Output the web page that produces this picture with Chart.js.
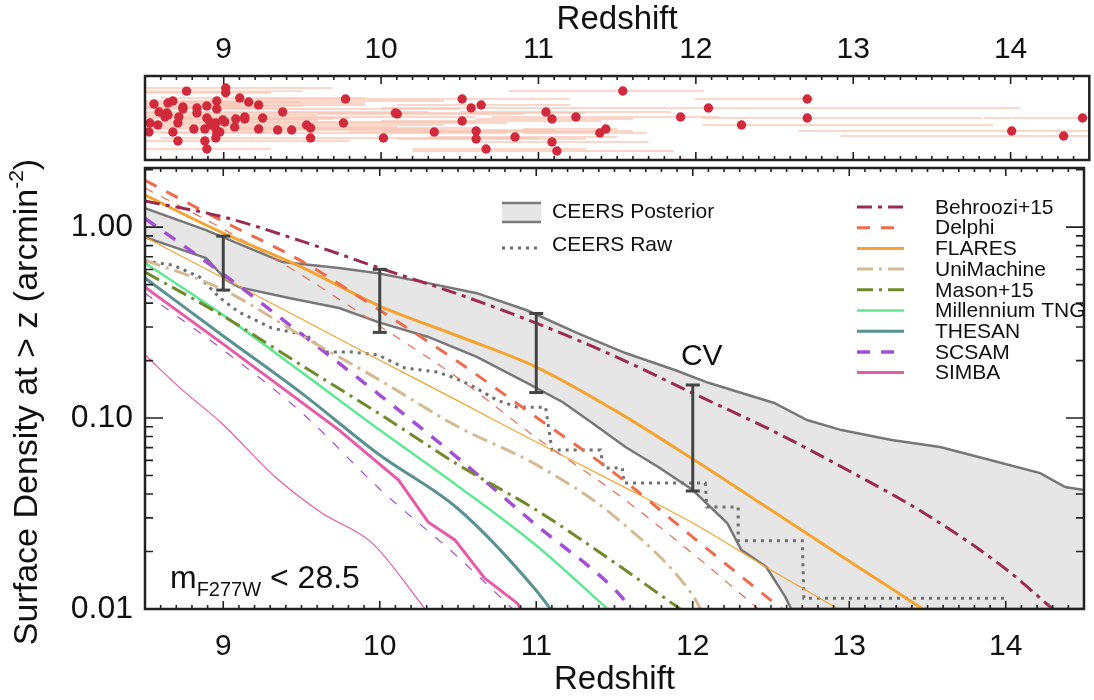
<!DOCTYPE html>
<html>
<head>
<meta charset="utf-8">
<script src="https://cdn.jsdelivr.net/npm/chart.js@4.4.0/dist/chart.umd.min.js"></script>
<style>
  body { margin: 0; background: #fff; }
  #wrap { position: relative; width: 1094px; height: 700px; }
  canvas { position: absolute; left: 0; top: 0; }
</style>
</head>
<body>
<div id="wrap">
  <canvas id="main" width="1094" height="700"></canvas>
  <canvas id="top" width="1094" height="165"></canvas>
</div>
<script>
// ---- top panel: photometric redshifts with their ranges ----
const topZ   = [8.764,9.013,9.013,8.557,8.646,8.677,8.589,8.639,8.627,8.646,8.741,8.741,8.715,8.83,8.83,8.893,8.956,8.956,9.102,9.159,9.222,9.375,8.532,8.582,8.525,8.709,8.677,8.811,8.88,8.893,8.912,8.925,8.944,8.95,8.956,8.975,8.95,8.994,9.007,9.077,9.07,9.134,9.134,9.248,9.222,9.343,9.432,9.527,9.552,9.552,8.709,8.88,8.893,9.774,9.761,10.015,10.091,10.103,10.338,10.515,10.572,10.636,10.515,10.604,10.604,10.667,10.851,11.048,11.086,11.238,11.086,11.117,11.39,11.428,11.536,11.903,12.08,12.29,12.708,12.708,14.007,14.337,14.457];
const topRow = [0.82,0.857,0.80,0.667,0.679,0.702,0.571,0.56,0.512,0.536,0.631,0.607,0.512,0.619,0.56,0.643,0.702,0.607,0.738,0.69,0.655,0.571,0.44,0.417,0.333,0.44,0.333,0.369,0.369,0.5,0.452,0.417,0.393,0.44,0.321,0.333,0.262,0.476,0.452,0.488,0.393,0.512,0.488,0.5,0.369,0.357,0.357,0.417,0.381,0.262,0.226,0.226,0.131,0.726,0.44,0.262,0.56,0.548,0.333,0.726,0.619,0.655,0.464,0.345,0.25,0.131,0.274,0.571,0.488,0.512,0.214,0.107,0.321,0.369,0.821,0.512,0.619,0.417,0.726,0.5,0.345,0.286,0.5];
const topLo  = [8.3,8.3,8.4,8.2,8.3,8.3,8.2,8.2,8.2,8.2,8.3,8.3,8.3,8.4,8.4,8.5,8.5,8.5,8.6,8.7,8.8,8.9,8.2,8.2,8.2,8.3,8.3,8.4,8.5,8.5,8.5,8.5,8.5,8.6,8.6,8.6,8.6,8.6,8.6,8.7,8.7,8.7,8.7,8.8,8.8,8.9,9.0,9.1,9.1,9.1,8.3,8.4,8.5,9.2,9.2,9.5,9.5,9.6,9.8,9.9,10.0,10.1,10.0,10.0,10.1,10.2,10.3,10.5,10.6,10.7,10.6,10.2,10.9,10.9,10.81,11.2,11.3,12.04,11.99,12.04,12.65,12.92,13.83];
const topHi  = [9.5,9.69,9.3,9.1,9.9,9.3,9.4,10.0,9.0,9.6,9.2,10.5,9.8,9.4,10.2,9.5,10.4,9.6,9.9,9.5,9.9,10.3,9.7,9.2,9.4,10.0,9.2,10.3,9.5,9.8,10.6,9.5,10.1,9.6,10.8,9.4,9.9,9.6,10.1,9.7,9.9,10.6,9.5,9.8,10.1,10.8,11.1,10.4,10.6,10.9,9.8,9.3,9.3,11.2,10.8,11.0,11.3,10.9,11.4,11.2,11.5,11.2,11.4,11.6,11.3,11.3,11.5,11.84,11.6,11.8,11.7,11.86,11.69,11.5,12.05,12.15,14.06,13.89,12.75,13.82,14.6,14.6,14.6];

// ---- bottom panel: cumulative surface densities (arcmin^-2) ----
const upperZ = [8.5,8.89,9.38,9.74,9.99,10.31,10.62,10.94,11.26,11.57,11.89,12.1,12.52,12.73,12.95,13.27,13.58,13.9,14.22,14.38,14.5];
const upperN = [1.257,0.964,0.656,0.61,0.574,0.509,0.451,0.367,0.279,0.219,0.178,0.153,0.12,0.0977,0.0865,0.0767,0.0705,0.0603,0.0515,0.0435,0.042];
const lowerZ = [8.5,8.89,9.02,9.1,9.42,9.74,9.99,10.31,10.62,10.94,11.17,11.36,11.57,11.78,12.0,12.08,12.22,12.31,12.47,12.59,12.63,14.5];
const lowerN = [0.887,0.688,0.528,0.485,0.425,0.377,0.318,0.266,0.209,0.153,0.121,0.094,0.0705,0.0554,0.042,0.0363,0.0282,0.0204,0.0166,0.0116,0.01,0.01];
const rawZ = [8.5,8.68,8.85,8.98,9.1,9.31,9.53,9.65,9.82,9.99,10.16,10.37,10.48,10.58,10.75,10.88,11.06,11.1,11.41,11.43,11.55,11.56,12.08,12.09,12.29,12.29,12.7,12.71,14.0];
const rawN = [0.664,0.632,0.547,0.425,0.359,0.296,0.272,0.222,0.222,0.214,0.183,0.174,0.162,0.149,0.124,0.114,0.114,0.068,0.068,0.0548,0.0548,0.0457,0.0457,0.0342,0.0342,0.0228,0.0228,0.0114,0.0114];

const behrooziZ = [8.5,9,9.5,10,10.5,11,11.5,12,12.5,13,13.5,14,14.3];
const behrooziN = [1.37,1.13,0.845,0.61,0.446,0.314,0.211,0.135,0.0865,0.0528,0.031,0.0162,0.01];
const delphiZ = [8.5,9,9.5,10,10.5,11,11.5,12,12.5,12.57];
const delphiN = [1.76,1.07,0.664,0.367,0.197,0.101,0.0515,0.0238,0.0111,0.01];
const delphiThinZ = [8.5,9,9.5,10,10.5,11,11.5,12,12.42];
const delphiThinN = [1.6,0.977,0.561,0.303,0.162,0.079,0.041,0.0195,0.01];
const flaresZ = [8.5,9,9.5,10,10.5,11,11.5,12,12.5,13,13.47];
const flaresN = [1.47,0.93,0.618,0.386,0.269,0.185,0.110,0.061,0.033,0.0178,0.01];
const flaresThinZ = [8.5,9,9.5,10,10.5,11,11.5,12,12.5,12.93];
const flaresThinN = [0.887,0.541,0.33,0.201,0.123,0.0749,0.0462,0.0282,0.016,0.01];
const uniZ = [8.5,9,9.5,10,10.5,11,11.5,12,12.05];
const uniN = [0.672,0.47,0.27,0.158,0.09,0.057,0.0305,0.0118,0.01];
const masonZ = [8.5,9,9.5,10,10.5,11,11.5,11.92];
const masonN = [0.581,0.342,0.189,0.105,0.057,0.033,0.0175,0.01];
const tngZ = [8.5,9,9.5,10,10.5,11,11.45];
const tngN = [0.648,0.346,0.174,0.0865,0.044,0.0215,0.0101];
const thesanZ = [8.5,9,9.5,10,10.5,11,11.09];
const thesanN = [0.541,0.269,0.135,0.064,0.0335,0.0125,0.01];
const scsamZ = [8.5,9,9.5,10,10.5,11,11.5,11.61];
const scsamN = [1.11,0.567,0.275,0.132,0.0617,0.0275,0.0127,0.01];
const scsamThinZ = [8.5,9,9.5,10,10.5,10.85];
const scsamThinN = [0.451,0.227,0.107,0.0425,0.0187,0.01];
const simbaZ = [8.5,9,9.31,9.74,10.12,10.31,10.48,10.67,10.88,10.9];
const simbaN = [0.485,0.244,0.158,0.0865,0.0473,0.0285,0.023,0.0145,0.0107,0.01];
const simbaThinZ = [8.5,8.74,8.99,9.34,9.63,9.95,10.29];
const simbaThinN = [0.214,0.140,0.094,0.0485,0.0318,0.0222,0.01];

// cosmic variance bars
const cvZ  = [9, 10, 11, 12];
const cvHi = [0.897, 0.601, 0.353, 0.149];
const cvLo = [0.468, 0.281, 0.136, 0.0415];

const zTickVals = [9, 10, 11, 12, 13, 14];
const yTickVals = [0.01, 0.1, 1];

const FONT = "'Liberation Sans', Arial, Helvetica, sans-serif";
Chart.defaults.font.family = FONT;
Chart.defaults.color = '#111';

function pts(zs, ns){ return zs.map((z,i)=>({x:z, y:ns[i]})); }

function zTicks(s){ s.ticks = zTickVals.map(v=>({value:v})); }
function yTicks(s){ s.ticks = yTickVals.map(v=>({value:v})); }

// box + inward ticks on all sides, IDL style
const frame = {
  id: 'frame',
  afterDatasetsDraw(chart){
    const {ctx, chartArea:a} = chart;
    const xs = chart.scales.x, ys = chart.scales.y;
    ctx.save();
    ctx.strokeStyle = '#222';
    ctx.lineWidth = 1.6;
    ctx.beginPath();
    for (let i = 85; i <= 145; i++){
      const px = xs.getPixelForValue(i/10);
      const len = i % 10 === 0 ? 8 : 4;
      ctx.moveTo(px, a.top); ctx.lineTo(px, a.top + len);
      ctx.moveTo(px, a.bottom); ctx.lineTo(px, a.bottom - len);
    }
    if (ys.type === 'logarithmic'){
      for (let d = -2; d <= 0; d++) for (let m = 1; m <= 9; m++){
        const v = m * Math.pow(10, d);
        if (v < ys.min || v > ys.max) continue;
        const py = ys.getPixelForValue(v);
        const len = m === 1 ? 18 : 8;
        ctx.moveTo(a.left, py); ctx.lineTo(a.left + len, py);
        ctx.moveTo(a.right, py); ctx.lineTo(a.right - len, py);
      }
    }
    ctx.stroke();
    ctx.lineWidth = 2.5;
    ctx.strokeRect(a.left, a.top, a.right - a.left, a.bottom - a.top);
    ctx.restore();
  }
};

// ---------- top chart ----------
const errPts = [];
topZ.forEach((z,i)=>{
  errPts.push({x:topLo[i], y:topRow[i]}, {x:topHi[i], y:topRow[i]}, {x:topHi[i], y:null});
});

new Chart(document.getElementById('top'), {
  data: {
    datasets: [
      { type:'scatter', data: topZ.map((z,i)=>({x:z, y:topRow[i]})), pointRadius:4.7,
        backgroundColor:'#d12a3c', borderWidth:0, order:0 },
      { type:'line', data: errPts, borderColor:'rgba(241,150,115,0.5)', borderWidth:1.4,
        pointRadius:0, spanGaps:false, order:1 }
    ]
  },
  options: {
    responsive:false, animation:false, devicePixelRatio:1,
    layout:{ padding:{left:145, right:2, top:0, bottom:5} },
    plugins:{ legend:{display:false}, tooltip:{enabled:false} },
    scales:{
      x:{ type:'linear', position:'top', min:8.5, max:14.5, afterBuildTicks:zTicks,
          afterFit:s=>{ s.height = 76; },
          grid:{display:false, drawTicks:false}, border:{display:false},
          ticks:{font:{size:30}, padding:8, color:'#111'},
          title:{display:true, text:'Redshift', font:{size:33}, padding:0, color:'#111'} },
      y:{ display:false, min:0, max:1 }
    }
  },
  plugins:[frame]
});

// ---------- main chart ----------
const annot = {
  id: 'annot',
  afterDraw(chart){
    const {ctx} = chart;
    const xs = chart.scales.x, ys = chart.scales.y;
    ctx.save();
    ctx.fillStyle = '#111';
    // y axis title with superscript
    ctx.translate(28, 402);
    ctx.rotate(-Math.PI/2);
    ctx.textBaseline = 'middle';
    ctx.font = '34px ' + FONT;
    const t1 = 'Surface Density at > z (arcmin', t3 = ')';
    const w1 = ctx.measureText(t1).width, w3 = ctx.measureText(t3).width;
    ctx.font = '21px ' + FONT;
    const w2 = ctx.measureText('-2').width;
    let x0 = -(w1 + w2 + w3)/2;
    ctx.font = '34px ' + FONT; ctx.fillText(t1, x0, 0);
    ctx.font = '21px ' + FONT; ctx.fillText('-2', x0 + w1, -11);
    ctx.font = '34px ' + FONT; ctx.fillText(t3, x0 + w1 + w2, 0);
    ctx.restore();

    ctx.save();
    ctx.fillStyle = '#111';
    // CV label above the last bar
    ctx.font = '30px ' + FONT;
    ctx.textAlign = 'center'; ctx.textBaseline = 'middle';
    ctx.fillText('CV', xs.getPixelForValue(cvZ[3]) + 9, ys.getPixelForValue(cvHi[3]) - 28);

    // magnitude limit label
    const a = chart.chartArea;
    ctx.textAlign = 'left'; ctx.textBaseline = 'alphabetic';
    let lx = a.left + 25, ly = a.bottom - 21;
    ctx.font = '32px ' + FONT; ctx.fillText('m', lx, ly); lx += ctx.measureText('m').width;
    ctx.font = '20px ' + FONT; ctx.fillText('F277W', lx, ly + 8); lx += ctx.measureText('F277W').width;
    ctx.font = '32px ' + FONT; ctx.fillText(' < 28.5', lx, ly);

    // left legend (CEERS)
    ctx.font = '21px ' + FONT; ctx.textBaseline = 'middle';
    ctx.fillStyle = '#e6e6e6'; ctx.fillRect(502, 203, 39, 19);
    ctx.strokeStyle = '#7a7a7a'; ctx.lineWidth = 2.5;
    ctx.beginPath(); ctx.moveTo(502, 203); ctx.lineTo(541, 203); ctx.moveTo(502, 222); ctx.lineTo(541, 222); ctx.stroke();
    ctx.fillStyle = '#111'; ctx.fillText('CEERS Posterior', 552, 212);
    const raw = chart.data.datasets[2];
    ctx.strokeStyle = raw.borderColor; ctx.lineWidth = raw.borderWidth; ctx.setLineDash(raw.borderDash);
    ctx.beginPath(); ctx.moveTo(502, 248); ctx.lineTo(542, 248); ctx.stroke();
    ctx.setLineDash([]);
    ctx.fillText('CEERS Raw', 552, 245);

    // right legend (models)
    const entries = chart.data.datasets.filter(d => d.legend);
    entries.forEach((d, i) => {
      const y = 208 + i*20.7;
      ctx.strokeStyle = d.borderColor; ctx.lineWidth = d.borderWidth;
      ctx.setLineDash(d.borderDash || []);
      ctx.beginPath(); ctx.moveTo(857, y - 1); ctx.lineTo(904, y - 1); ctx.stroke();
      ctx.setLineDash([]);
      ctx.fillStyle = '#111';
      ctx.fillText(d.label, 935, y);
    });
    ctx.restore();
  }
};

const cvPts = [];
cvZ.forEach((z,i)=>{ cvPts.push({x:z, y:cvHi[i]}, {x:z, y:cvLo[i]}, {x:z, y:null}); });

function model(label, zs, ns, color, width, dash, order, legend, smooth = true){
  return { type:'line', label, data: pts(zs, ns), borderColor:color, borderWidth:width,
           borderDash:dash, pointRadius:0, fill:false, order, legend,
           cubicInterpolationMode: smooth ? 'monotone' : 'default', tension:0 };
}

new Chart(document.getElementById('main'), {
  data: {
    datasets: [
      { type:'line', label:'CEERS Posterior', data: pts(upperZ, upperN), borderColor:'#777', borderWidth:2.5,
        backgroundColor:'#e6e6e6', fill:{target:1}, pointRadius:0, tension:0, order:30 },
      { type:'line', label:'lower', data: pts(lowerZ, lowerN), borderColor:'#777', borderWidth:2.5,
        pointRadius:0, fill:false, tension:0, order:31 },
      { type:'line', label:'CEERS Raw', data: pts(rawZ, rawN), borderColor:'#6f6f6f', borderWidth:3,
        borderDash:[3,5], pointRadius:0, fill:false, tension:0, order:20 },
      model('Behroozi+15', behrooziZ, behrooziN, '#9c2b52', 3, [15,6,4,6], 2, true),
      model('Delphi', delphiZ, delphiN, '#ee6b4e', 3, [13,11], 3, true),
      model('FLARES', flaresZ, flaresN, '#f5a431', 3, [], 4, true),
      model('UniMachine', uniZ, uniN, '#d5b992', 3, [16,6,3,6], 5, true),
      model('Mason+15', masonZ, masonN, '#6e8a2b', 3, [16,6,3,6], 6, true),
      model('Millennium TNG', tngZ, tngN, '#5fe893', 2.5, [], 7, true),
      model('THESAN', thesanZ, thesanN, '#5a9191', 3, [], 8, true),
      model('SCSAM', scsamZ, scsamN, '#a24fd6', 3.5, [13,11], 9, true),
      model('SIMBA', simbaZ, simbaN, '#e75aa6', 3, [], 10, true, false),
      model('Delphi thin', delphiThinZ, delphiThinN, '#ee6b4e', 1.2, [9,9], 11, false),
      model('FLARES thin', flaresThinZ, flaresThinN, '#f5a431', 1.2, [], 12, false),
      model('SCSAM thin', scsamThinZ, scsamThinN, '#a24fd6', 1.2, [9,11], 13, false),
      model('SIMBA thin', simbaThinZ, simbaThinN, '#e75aa6', 1.2, [], 14, false),
      { type:'line', label:'CV', data: cvPts, borderColor:'#444', borderWidth:3, spanGaps:false,
        pointStyle:'line', pointRadius:7, pointBorderWidth:3, pointBorderColor:'#444', fill:false, order:0 }
    ]
  },
  options: {
    responsive:false, animation:false, devicePixelRatio:1,
    layout:{ padding:{left:0, right:2, top:168, bottom:0} },
    plugins:{ legend:{display:false}, tooltip:{enabled:false}, filler:{drawTime:'beforeDatasetsDraw'} },
    scales:{
      x:{ type:'linear', min:8.5, max:14.5, afterBuildTicks:zTicks,
          afterFit:s=>{ s.height = 91; },
          grid:{display:false, drawTicks:false}, border:{display:false},
          ticks:{font:{size:30}, padding:20, color:'#111'},
          title:{display:true, text:'Redshift', font:{size:33}, padding:0, color:'#111'} },
      y:{ type:'logarithmic', min:0.01, max:2.04, afterBuildTicks:yTicks,
          afterFit:s=>{ s.width = 145; },
          grid:{display:false, drawTicks:false}, border:{display:false},
          ticks:{font:{size:32}, padding:12, color:'#111', callback:v=>Number(v).toFixed(2)} }
    }
  },
  plugins:[frame, annot]
});
</script>
</body>
</html>
